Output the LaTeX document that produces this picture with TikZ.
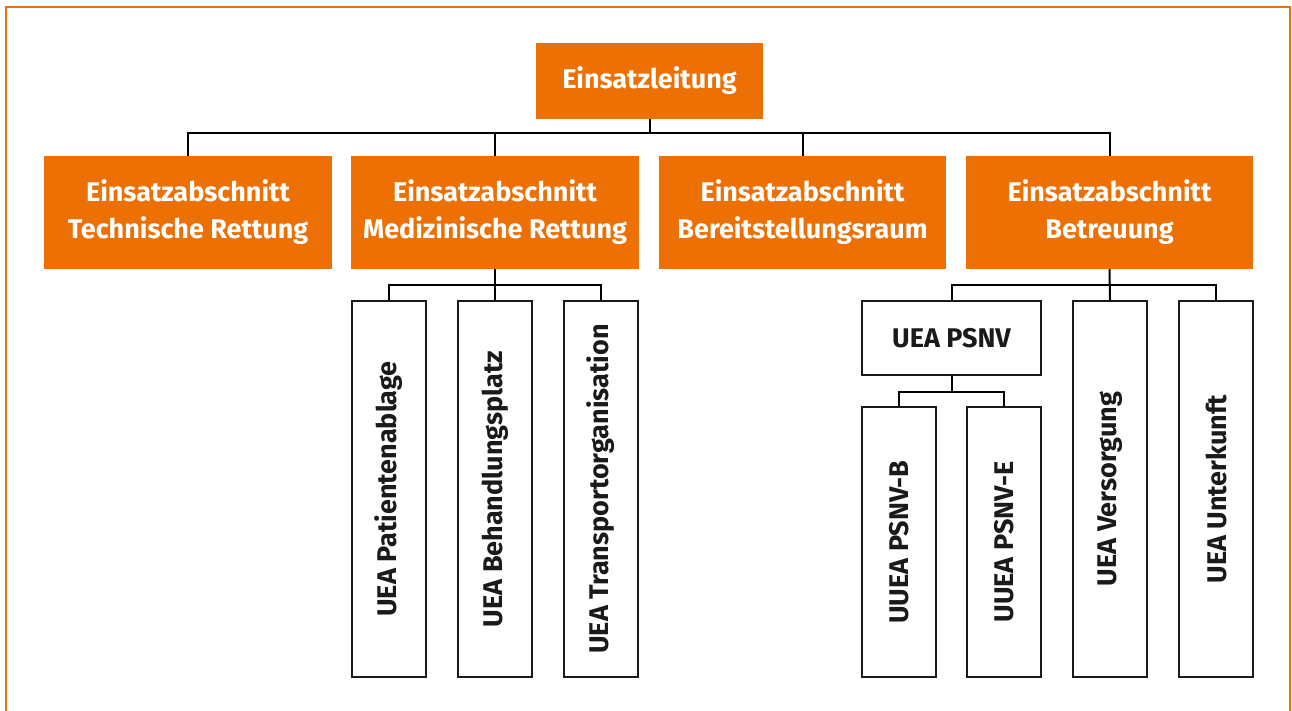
\documentclass[tikz,border=0pt]{standalone}
\usepackage{fontspec}
\setmainfont{Fira Sans}
\definecolor{dorange}{HTML}{EC7004}
\definecolor{txtdark}{HTML}{1A1A1A}
\begin{document}
\begin{tikzpicture}[x=1pt,y=-1pt,
  obox/.style={fill=dorange, draw=none, text=white, inner sep=0pt, align=center, font=\fontsize{27}{37}\selectfont\bfseries},
  wbox/.style={fill=white, draw=txtdark, line width=1.5pt, text=txtdark, inner sep=0pt, align=center, font=\fontsize{27}{32}\selectfont\bfseries},
  conn/.style={draw=black, line width=2pt}]
\useasboundingbox (0,0) rectangle (1292,711);
\draw[dorange, line width=2pt] (5.5,712) -- (5.5,7.5) -- (1290,7.5) -- (1290,712);

\node[obox, minimum width=227, minimum height=76] (EL) at (649.5,81) {Einsatzleitung};
\node[obox, minimum width=288, minimum height=113] (A1) at (188,212.5) {Einsatzabschnitt\\Technische Rettung};
\node[obox, minimum width=288, minimum height=113] (A2) at (495,212.5) {Einsatzabschnitt\\Medizinische Rettung};
\node[obox, minimum width=287, minimum height=113] (A3) at (802.5,212.5) {Einsatzabschnitt\\Bereitstellungsraum};
\node[obox, minimum width=287, minimum height=113] (A4) at (1109.5,212.5) {Einsatzabschnitt\\Betreuung};

\node[wbox, minimum width=74, minimum height=376] (M1) at (389,489) {\rotatebox{90}{UEA Patientenablage}};
\node[wbox, minimum width=74, minimum height=376] (M2) at (495,489) {\rotatebox{90}{UEA Behandlungsplatz}};
\node[wbox, minimum width=74, minimum height=376] (M3) at (601,489) {\rotatebox{90}{UEA Transportorganisation}};

\node[wbox, minimum width=179, minimum height=74] (PS) at (951.5,338) {UEA PSNV};
\node[wbox, minimum width=74, minimum height=376] (VE) at (1110,489) {\rotatebox{90}{UEA Versorgung}};
\node[wbox, minimum width=74, minimum height=376] (UN) at (1216,489) {\rotatebox{90}{UEA Unterkunft}};
\node[wbox, minimum width=74, minimum height=270] (PB) at (899,542) {\rotatebox{90}{UUEA PSNV-B}};
\node[wbox, minimum width=74, minimum height=270] (PE) at (1004,542) {\rotatebox{90}{UUEA PSNV-E}};

\coordinate (bus1) at (0,133);
\coordinate (bus2) at (0,285);
\coordinate (bus3) at (0,392);

\draw[conn] (EL.south) -- (EL.south |- bus1);
\draw[conn] (A1.north) |- (A4.north |- bus1) -- (A4.north);
\draw[conn] (A2.north) -- (A2.north |- bus1);
\draw[conn] (A3.north) -- (A3.north |- bus1);

\draw[conn] (A2.south) -- (A2.south |- bus2);
\draw[conn] (M1.north) |- (M3.north |- bus2) -- (M3.north);
\draw[conn] (M2.north) -- (M2.north |- bus2);

\draw[conn] (A4.south) -- (VE.north);
\draw[conn] (PS.north) |- (UN.north |- bus2) -- (UN.north);

\draw[conn] (PS.south) -- (PS.south |- bus3);
\draw[conn] (PB.north) |- (PE.north |- bus3) -- (PE.north);
\end{tikzpicture}
\end{document}
